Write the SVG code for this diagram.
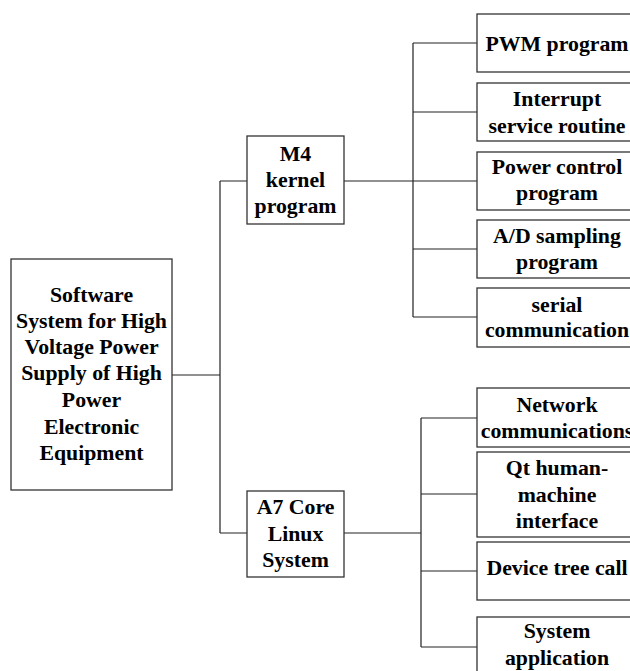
<svg xmlns="http://www.w3.org/2000/svg" width="630" height="671" viewBox="0 0 630 671">
<style>
.box{fill:#fff;stroke:#333;stroke-width:1.3}
.t{font-family:"Liberation Serif","Times New Roman",serif;font-weight:bold;font-size:21.8px;fill:#000;text-anchor:middle}
.c{fill:none;stroke:#222;stroke-width:1.2}
</style>
<rect width="630" height="671" fill="#fff"/>
<g id="connectors">
<path class="c" d="M172,375H220M220,181V533M220,181H247M220,533H247"/>
<path class="c" d="M344,181H477M413,43V317M413,43H477M413,112H477M413,249H477M413,317H477"/>
<path class="c" d="M344,533H421M421,418V647M421,418H477M421,494H477M421,571H477M421,647H477"/>
</g>
<g id="root">
<rect class="box" x="11" y="259" width="161" height="231"/>
<text class="t" x="91.5" y="302">Software</text>
<text class="t" x="91.5" y="328">System for High</text>
<text class="t" x="91.5" y="354">Voltage Power</text>
<text class="t" x="91.5" y="380">Supply of High</text>
<text class="t" x="91.5" y="407">Power</text>
<text class="t" x="91.5" y="434">Electronic</text>
<text class="t" x="91.5" y="460">Equipment</text>
</g>
<g id="m4">
<rect class="box" x="247" y="136" width="97" height="88"/>
<text class="t" x="295.5" y="161">M4</text>
<text class="t" x="295.5" y="187">kernel</text>
<text class="t" x="295.5" y="213">program</text>
</g>
<g id="a7">
<rect class="box" x="247" y="491" width="97" height="86"/>
<text class="t" x="295.5" y="514">A7 Core</text>
<text class="t" x="295.5" y="541">Linux</text>
<text class="t" x="295.5" y="567">System</text>
</g>
<g id="pwm">
<rect class="box" x="477" y="14" width="160" height="58"/>
<text class="t" x="557" y="51">PWM program</text>
</g>
<g id="isr">
<rect class="box" x="477" y="83" width="160" height="58"/>
<text class="t" x="557" y="106">Interrupt</text>
<text class="t" x="557" y="133">service routine</text>
</g>
<g id="power">
<rect class="box" x="477" y="152" width="160" height="58"/>
<text class="t" x="557" y="174">Power control</text>
<text class="t" x="557" y="200">program</text>
</g>
<g id="ad">
<rect class="box" x="477" y="220" width="160" height="58"/>
<text class="t" x="557" y="243">A/D sampling</text>
<text class="t" x="557" y="269">program</text>
</g>
<g id="serial">
<rect class="box" x="477" y="288" width="160" height="59"/>
<text class="t" x="557" y="312">serial</text>
<text class="t" x="557" y="337">communication</text>
</g>
<g id="network">
<rect class="box" x="477" y="388" width="160" height="59"/>
<text class="t" x="557" y="412">Network</text>
<text class="t" x="557" y="438">communications</text>
</g>
<g id="qt">
<rect class="box" x="477" y="452" width="160" height="85"/>
<text class="t" x="557" y="475">Qt human-</text>
<text class="t" x="557" y="502">machine</text>
<text class="t" x="557" y="528">interface</text>
</g>
<g id="device">
<rect class="box" x="477" y="542" width="160" height="58"/>
<text class="t" x="557" y="575">Device tree call</text>
</g>
<g id="sysapp">
<rect class="box" x="477" y="617" width="160" height="70"/>
<text class="t" x="557" y="638">System</text>
<text class="t" x="557" y="665">application</text>
</g>
</svg>
